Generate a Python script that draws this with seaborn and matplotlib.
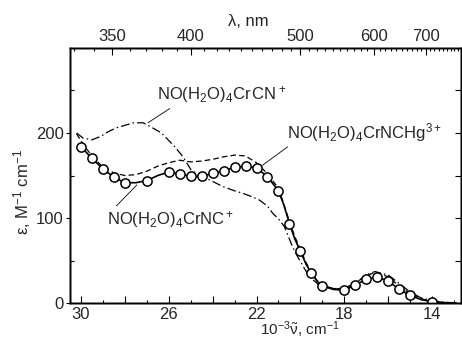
import numpy as np
import pandas as pd
import matplotlib
matplotlib.use("Agg")
import matplotlib.pyplot as plt
import seaborn as sns

# ---------------- data (10^-3 wavenumber, epsilon) ----------------
# NO(H2O)4CrNC+  : open circles (measured points)
nc_pts_x = [30.0, 29.5, 29.0, 28.5, 28.0, 27.0, 26.0, 25.5, 25.0, 24.5, 24.0, 23.5,
            23.0, 22.5, 22.0, 21.5, 21.0, 20.5, 20.0, 19.5, 19.0, 18.0, 17.5, 17.0,
            16.5, 16.0, 15.5, 15.0, 14.0]
nc_pts_y = [184, 170, 158, 148, 141.5, 144, 154, 152, 149, 149, 152.5, 155.5,
            159.5, 161, 159, 148.5, 132, 93.5, 61, 35, 20, 15, 21, 28,
            30.5, 26, 16, 9, 1.5]
# NO(H2O)4CrNC+  : solid curve
nc_line_x = [30.0, 29.5, 29.0, 28.5, 28.0, 27.5, 27.0, 26.5, 26.0, 25.5, 25.0, 24.5,
             24.0, 23.5, 23.0, 22.5, 22.0, 21.5, 21.0, 20.75, 20.5, 20.25, 20.0, 19.75,
             19.5, 19.25, 19.0, 18.5, 18.0, 17.5, 17.0, 16.5, 16.0, 15.5, 15.0, 14.5,
             14.0, 13.5, 12.9]
nc_line_y = [184, 170, 158, 148, 141.5, 141.5, 144, 150, 154, 152, 149, 149,
             152.5, 155.5, 159.5, 161, 159, 148.5, 132, 115, 93.5, 75, 61, 46,
             35, 26, 20, 16, 15, 21, 28, 30.5, 26, 16, 9, 4,
             1.5, 0.5, 0]

# NO(H2O)4CrNCHg3+ : dashed curve
hg_x = [30.2, 29.8, 29.4, 29.0, 28.5, 28.0, 27.5, 27.0, 26.5, 26.0, 25.5, 25.0,
        24.5, 24.0, 23.5, 23.0, 22.5, 22.0, 21.5, 21.0, 20.75, 20.5, 20.25, 20.0,
        19.75, 19.5, 19.25, 19.0, 18.5, 18.0, 17.5, 17.0, 16.6, 16.0, 15.5, 15.0,
        14.5, 14.0, 13.5, 12.9]
hg_y = [199, 183, 170, 160, 153, 150, 151, 155, 161, 165, 168, 166,
        167, 169, 172, 174, 173, 165, 152, 135, 116, 96, 78, 63,
        48, 36, 27, 21, 17, 17, 24, 32, 36, 31, 20, 11,
        5, 2, 0.5, 0]

# NO(H2O)4CrCN+ : dash-dot curve
cn_x = [30.2, 29.9, 29.5, 29.1, 28.76, 28.4, 28.0, 27.6, 27.17, 26.8, 26.33, 25.73,
        25.35, 24.97, 24.44, 24.0, 23.53, 23.0, 22.62, 22.2, 21.86, 21.5, 21.26, 21.0,
        20.73, 20.42, 20.2, 20.05, 19.8, 19.6, 19.14, 18.5, 18.0, 17.5, 17.0, 16.6,
        16.0, 15.5, 15.0, 14.5, 14.0, 13.5, 12.9]
cn_y = [200, 194, 192, 196, 201.5, 206, 209, 212, 212, 207, 200, 184,
        172, 156, 148.6, 143, 137, 132, 129, 125, 121, 114, 105.5, 99,
        90, 70, 58, 51, 40, 31, 21, 17, 17, 23, 33, 37,
        33, 23, 13, 6, 3, 1, 0]

x_major = [30, 28, 26, 24, 22, 20, 18, 16, 14]
x_major_labels = ["30", "", "26", "", "22", "", "18", "", "14"]
x_minor = [29, 27, 25, 23, 21, 19, 17, 15, 13]
y_major = [0, 100, 200]
y_minor = [50, 150, 250]
lam_major = [350, 400, 500, 600, 700]
lam_minor = list(range(330, 790, 10))

# ---------------- style ----------------
sns.set_theme(style="ticks")
FONT = "Liberation Sans"
plt.rcParams["font.family"] = [FONT, "DejaVu Sans"]
plt.rcParams["mathtext.fontset"] = "custom"
plt.rcParams["mathtext.rm"] = FONT
plt.rcParams["mathtext.it"] = FONT + ":italic"
plt.rcParams["mathtext.default"] = "regular"
FS = 12

fig = plt.figure(figsize=(4.62, 3.41), dpi=100)
ax = fig.add_axes([70 / 462, 1 - 303 / 341, 391 / 462, 255 / 341])

df_nc_line = pd.DataFrame({"x": nc_line_x, "y": nc_line_y})
df_nc_pts = pd.DataFrame({"x": nc_pts_x, "y": nc_pts_y})
df_hg = pd.DataFrame({"x": hg_x, "y": hg_y})
df_cn = pd.DataFrame({"x": cn_x, "y": cn_y})

sns.lineplot(data=df_cn, x="x", y="y", sort=False, estimator=None, ax=ax,
             color="black", lw=0.9, linestyle=(0, (7, 2.5, 1.2, 2.5)), legend=False)
sns.lineplot(data=df_hg, x="x", y="y", sort=False, estimator=None, ax=ax,
             color="black", lw=0.9, linestyle=(0, (4.5, 2.5)), legend=False)
sns.lineplot(data=df_nc_line, x="x", y="y", sort=False, estimator=None, ax=ax,
             color="black", lw=1.2, legend=False)
sns.scatterplot(data=df_nc_pts, x="x", y="y", ax=ax, marker="o", s=44,
                color="white", edgecolor="black", linewidth=1.1, zorder=5, legend=False)

ax.set_xlim(30.5, 12.68)
ax.set_ylim(0, 300)

# bottom axis
ax.set_xticks(x_major)
ax.set_xticklabels(x_major_labels, fontsize=FS)
ax.set_xticks(x_minor, minor=True)
ax.tick_params(axis="x", which="major", direction="in", length=5, width=0.8,
               pad=3, top=False, bottom=True, color="black")
ax.tick_params(axis="x", which="minor", direction="in", length=2.5, width=0.8,
               top=False, bottom=True, color="black")

# left axis
ax.set_yticks(y_major)
ax.set_yticklabels([str(v) for v in y_major], fontsize=FS)
ax.set_yticks(y_minor, minor=True)
ax.tick_params(axis="y", which="major", direction="out", length=3, width=0.8,
               pad=1.5, left=True, right=False, color="black")
ax.tick_params(axis="y", which="minor", direction="in", length=3, width=0.8,
               left=True, right=False, color="black")

for s in ax.spines.values():
    s.set_visible(True)
    s.set_linewidth(1.0)
    s.set_color("black")

ax.set_xlabel(r"10$^{-3}\tilde{\nu}$, cm$^{-1}$", fontsize=11, va="top")
ax.xaxis.set_label_coords(0.588, -0.064)
ax.set_ylabel(r"ε, M$^{-1}$ cm$^{-1}$", fontsize=FS)
ax.yaxis.set_label_coords(-0.095, 0.435)

# right axis ticks
axr = ax.twinx()
axr.set_ylim(ax.get_ylim())
axr.set_yticks(y_major[1:] + y_minor)
axr.set_yticklabels([])
axr.tick_params(axis="y", direction="in", length=4, width=0.8, right=True,
                left=False, color="black")
axr.grid(False)

# top wavelength axis
axt = ax.twiny()
axt.set_xlim(ax.get_xlim())
axt.set_xticks([1e4 / l for l in lam_major])
axt.set_xticklabels([str(l) for l in lam_major], fontsize=FS)
axt.set_xticks([1e4 / l for l in lam_minor if l not in lam_major], minor=True)
axt.tick_params(axis="x", which="major", direction="in", length=5, width=0.8,
                pad=3, top=True, bottom=False, color="black")
axt.tick_params(axis="x", which="minor", direction="in", length=2.5, width=0.8,
                top=True, bottom=False, color="black")
axt.grid(False)
for a in (axr, axt):
    for s in a.spines.values():
        s.set_linewidth(1.0)
        s.set_color("black")
fig.text(248 / 462, 1 - 21 / 341, "λ, nm", fontsize=FS, ha="center", va="center")

# annotations
lk = dict(arrowstyle="-", color="black", lw=0.6, shrinkA=0, shrinkB=0)
ax.annotate(r"NO(H$_2$O)$_4$Cr$\,$CN$^+$", xy=(26.95, 212), xytext=(26.55, 245),
            textcoords="data", ha="left", va="center", fontsize=FS,
            arrowprops=dict(lk, relpos=(0.14, 0.0)), zorder=6)
ax.annotate(r"NO(H$_2$O)$_4$CrNCHg$^{3+}$", xy=(21.73, 162), xytext=(20.59, 201),
            textcoords="data", ha="left", va="center", fontsize=FS,
            arrowprops=dict(lk, relpos=(0.05, 0.1)), zorder=6)
ax.annotate(r"NO(H$_2$O)$_4$CrNC$^+$", xy=(27.45, 139), xytext=(28.82, 98),
            textcoords="data", ha="left", va="center", fontsize=FS,
            arrowprops=dict(lk, relpos=(0.05, 1.0)), zorder=6)

fig.savefig("out.png", dpi=100)
